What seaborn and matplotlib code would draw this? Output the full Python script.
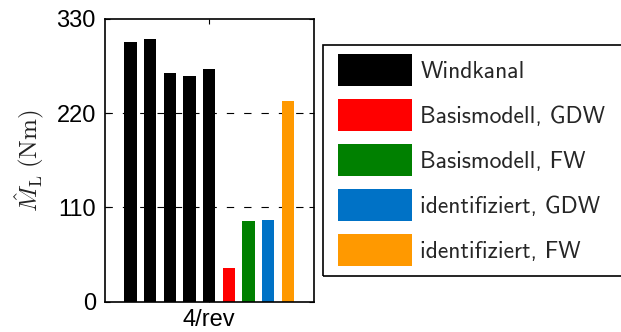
import matplotlib
matplotlib.use("Agg")
import matplotlib.pyplot as plt
import seaborn as sns
import pandas as pd
from matplotlib.patches import Patch, Rectangle

# ---- data ----
series_names = ["Windkanal", "Basismodell, GDW", "Basismodell, FW",
                "identifiziert, GDW", "identifiziert, FW"]
series_colors = ["#000000", "#FF0000", "#008000", "#0072C6", "#FF9900"]
windkanal_values = [302.7, 306.2, 266.9, 263.8, 271.2]
basis_gdw_values = [39.3]
basis_fw_values = [94.6]
ident_gdw_values = [94.9]
ident_fw_values = [234.2]
yticks = [0, 110, 220, 330]
xtick_label = "4/rev"

sns.set_style("white")
plt.rcParams['font.family'] = ['cmss10', 'DejaVu Sans']
plt.rcParams['mathtext.fontset'] = 'cm'
plt.rcParams['axes.unicode_minus'] = False

values = (windkanal_values + basis_gdw_values + basis_fw_values
          + ident_gdw_values + ident_fw_values)
series = ([series_names[0]] * len(windkanal_values) + [series_names[1]]
          + [series_names[2]] + [series_names[3]] + [series_names[4]])
df = pd.DataFrame({"pos": list(range(len(values))), "value": values, "series": series})

W, H = 621, 332
fig = plt.figure(figsize=(6.21, 3.32), dpi=100)
ax = fig.add_axes([0.169, 0.0913, 0.3366, 0.8515])
sns.barplot(data=df, x="pos", y="value", hue="series", hue_order=series_names,
            palette=dict(zip(series_names, series_colors)), dodge=False,
            width=0.63, saturation=1, linewidth=0, legend=False, ax=ax)

FS = 17
tick_font = dict(family=["Liberation Sans", "DejaVu Sans"], size=FS)
ax.set_xlim(-1.3, 9.33)
ax.set_ylim(0, 330)
ax.set_yticks(yticks)
ax.set_yticklabels([str(t) for t in yticks], **tick_font)
ax.set_xticks([4])
ax.set_xticklabels([xtick_label], **tick_font)
ax.set_xlabel("")
ax.set_ylabel(r'$\hat{M}_{\mathrm{L}}\;(\mathrm{Nm})$', fontsize=18, color="#222222")
ax.yaxis.set_label_coords(-0.278, 0.5)
for y in [110, 220]:
    ax.axhline(y, color="black", linestyle=(0, (6.6, 9)), linewidth=0.8, zorder=0)
ax.tick_params(direction="in", length=3.5, width=0.8, top=True, right=True,
               bottom=True, left=True, colors="black")
ax.tick_params(axis="y", pad=6.5)
ax.tick_params(axis="x", pad=5)
for s in ax.spines.values():
    s.set_visible(True)
    s.set_color("black")
    s.set_linewidth(1.2)

handles = [Patch(facecolor=c, edgecolor="none") for c in series_colors]
leg = fig.legend(handles, series_names, loc="upper left",
                 bbox_to_anchor=(338 / W, 1 - 54 / H), fontsize=FS, frameon=False,
                 handlelength=3.13, handleheight=1.71, labelspacing=0.55,
                 handletextpad=0.36, borderpad=0, borderaxespad=0)
fig.patches.append(Rectangle((323 / W, 1 - 276 / H), (640 - 323) / W, (276 - 45) / H,
                             transform=fig.transFigure, fill=False,
                             edgecolor="black", linewidth=1.2, clip_on=False))

fig.savefig("out.png", dpi=100)
